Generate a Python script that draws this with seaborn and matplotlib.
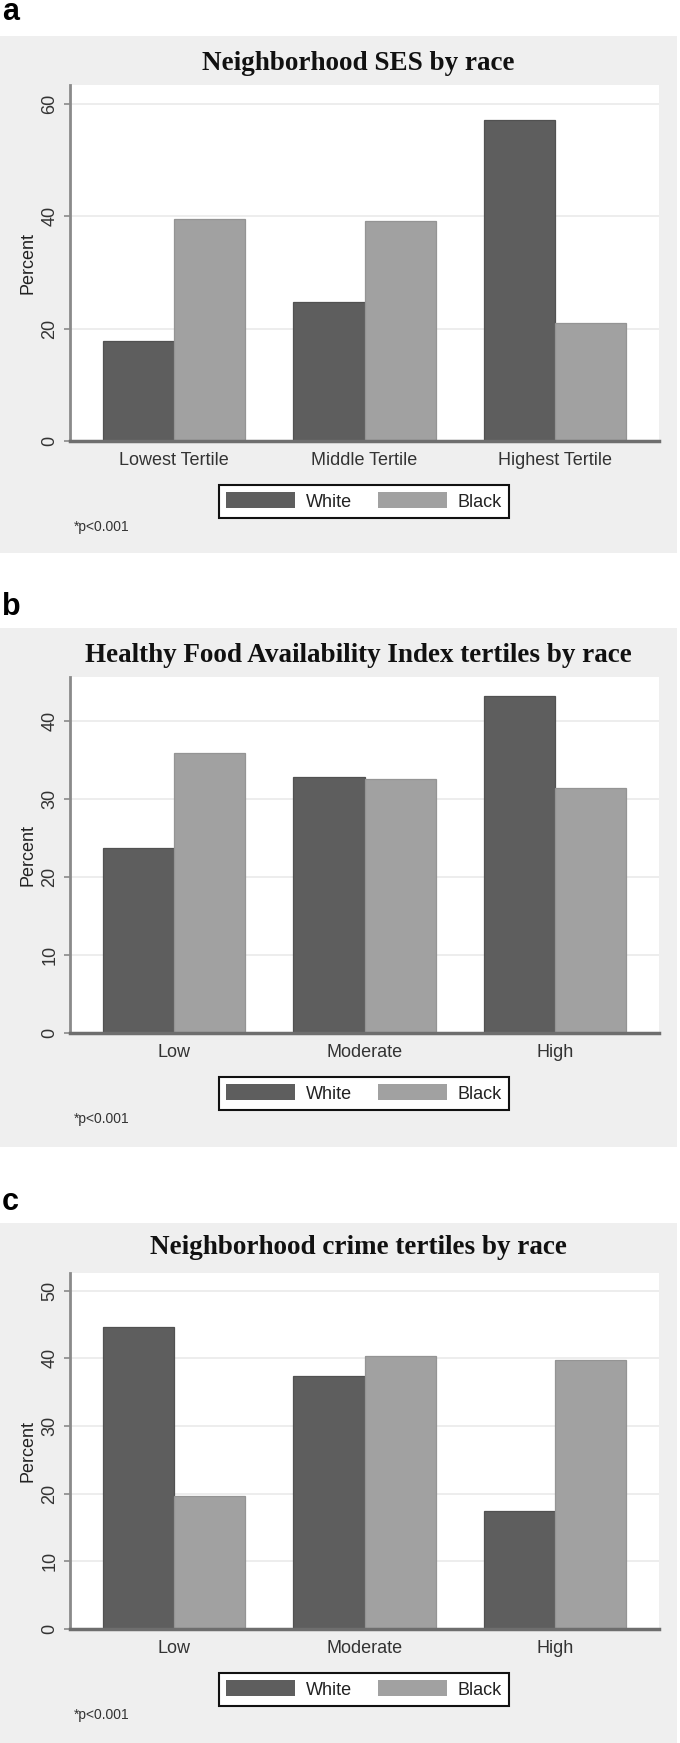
import pandas as pd
import seaborn as sns
import matplotlib.pyplot as plt
from matplotlib.patches import Rectangle

plt.rcParams['font.family'] = ['Liberation Sans', 'DejaVu Sans']

races = ['White', 'Black']

ses_cats = ['Lowest Tertile', 'Middle Tertile', 'Highest Tertile']
ses_white = [17.8, 24.7, 57.1]
ses_black = [39.6, 39.1, 21.1]

food_cats = ['Low', 'Moderate', 'High']
food_white = [23.7, 32.8, 43.2]
food_black = [35.9, 32.5, 31.4]

crime_cats = ['Low', 'Moderate', 'High']
crime_white = [44.6, 37.4, 17.5]
crime_black = [19.6, 40.3, 39.8]

titles = ['Neighborhood SES by race',
          'Healthy Food Availability Index tertiles by race',
          'Neighborhood crime tertiles by race']
letters = ['a', 'b', 'c']
yticks = [[0, 20, 40, 60], [0, 10, 20, 30, 40], [0, 10, 20, 30, 40, 50]]
ytops = [63.4, 45.6, 52.6]
note = '*p<0.001'

pal = {'White': '#5e5e5e', 'Black': '#a1a1a1'}
edges = {'White': '#515151', 'Black': '#949494'}

# layout in pixels (figure is 680 x 1743)
W, H = 680, 1743
layout = [
    dict(letter_y=20, gray=(36, 553), title_y=64, ax=(85, 441)),
    dict(letter_y=615, gray=(628, 1147), title_y=655, ax=(677, 1033)),
    dict(letter_y=1210, gray=(1223, 1743), title_y=1247, ax=(1273, 1629)),
]
ax_left, ax_right = 70, 659

def fx(x):
    return x / W

def fy(y):
    return 1 - y / H

fig = plt.figure(figsize=(6.8, 17.43), dpi=100)
fig.patch.set_facecolor('white')

data = [(ses_cats, ses_white, ses_black),
        (food_cats, food_white, food_black),
        (crime_cats, crime_white, crime_black)]

for i, (cats, white, black) in enumerate(data):
    L = layout[i]
    g0, g1 = L['gray']
    fig.add_artist(Rectangle((0, fy(g1)), 677 / W, (g1 - g0) / H,
                             transform=fig.transFigure, facecolor='#efefef',
                             edgecolor='none', zorder=-5))
    fig.text(fx(2), fy(L['letter_y']), letters[i], fontsize=22, fontweight='bold',
             va='baseline', ha='left', color='black')
    fig.text(fx(358), fy(L['title_y']), titles[i], fontsize=19.5, fontweight='bold',
             family=['Liberation Serif', 'DejaVu Serif'], ha='center', va='center',
             color='#111111')

    a0, a1 = L['ax']
    ax = fig.add_axes([fx(ax_left), fy(a1), (ax_right - ax_left) / W, (a1 - a0) / H])
    ax.set_facecolor('white')

    df = pd.DataFrame({
        'cat': cats * 2,
        'pct': white + black,
        'race': ['White'] * len(cats) + ['Black'] * len(cats),
    })
    sns.barplot(data=df, x='cat', y='pct', hue='race', hue_order=races, order=cats,
                palette=pal, saturation=1, width=0.746, gap=0, errorbar=None, ax=ax)

    for j, bar in enumerate(ax.patches[:6]):
        bar.set_edgecolor(edges[races[j // 3]])
        bar.set_linewidth(0.9)

    ax.set_xlim(-0.546, 2.546)
    ax.set_ylim(0, ytops[i])
    ax.set_yticks(yticks[i])
    ax.yaxis.grid(True, color='#ececec', lw=1.3)
    ax.set_axisbelow(True)
    for s in ['top', 'right']:
        ax.spines[s].set_visible(False)
    ax.spines['left'].set_color('#8a8a8a')
    ax.spines['left'].set_linewidth(2)
    ax.spines['bottom'].set_color('#6e6e6e')
    ax.spines['bottom'].set_linewidth(2.5)
    ax.tick_params(axis='x', length=0, pad=8, labelsize=13, labelcolor='#333333')
    ax.tick_params(axis='y', length=4.5, width=1.2, color='#8a8a8a', pad=4,
                   labelsize=13, labelcolor='#333333', labelrotation=90)
    for t in ax.get_yticklabels():
        t.set_va('center')
    ax.set_xlabel('')
    ax.set_ylabel('Percent', fontsize=13, color='#222222')
    ax.yaxis.set_label_coords((36 - ax_left) / (ax_right - ax_left), 0.5)

    handles, labels = ax.get_legend_handles_labels()
    ax.legend(handles, labels, loc='upper center', ncol=2,
              bbox_to_anchor=(fx(364), fy(a1 + 35)), bbox_transform=fig.transFigure,
              fontsize=13, handlelength=3.8, handleheight=1.0, handletextpad=0.6,
              columnspacing=1.45, borderpad=0.4, frameon=True, fancybox=False,
              framealpha=1, edgecolor='#111111', labelcolor='#222222')
    ax.get_legend().get_frame().set_linewidth(1.5)

    fig.text(fx(74), fy(a1 + 86), note, fontsize=10, ha='left', va='center',
             color='#333333')

fig.savefig('out.png', dpi=100)
